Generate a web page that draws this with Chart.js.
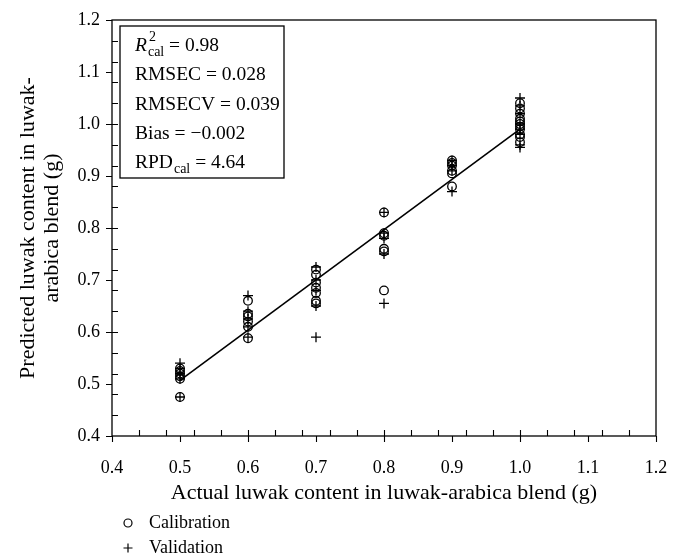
<!DOCTYPE html>
<html>
<head>
<meta charset="utf-8">
<script src="https://cdn.jsdelivr.net/npm/chart.js@4.4.0/dist/chart.umd.min.js"></script>
<style>
  html, body { margin: 0; padding: 0; background: #fff; }
  #wrap { position: relative; width: 682px; height: 557px; }
</style>
</head>
<body>
<div id="wrap"><canvas id="c" width="682" height="557"></canvas></div>
<script>
// ---- data ----
const xTicks = [0.4, 0.5, 0.6, 0.7, 0.8, 0.9, 1.0, 1.1, 1.2];
const yTicks = [0.4, 0.5, 0.6, 0.7, 0.8, 0.9, 1.0, 1.1, 1.2];
const minorStep = 0.04;

const calActual = [
  0.5, 0.5, 0.5, 0.5, 0.5, 0.5,
  0.6, 0.6, 0.6, 0.6, 0.6, 0.6,
  0.7, 0.7, 0.7, 0.7, 0.7, 0.7, 0.7,
  0.8, 0.8, 0.8, 0.8, 0.8, 0.8,
  0.9, 0.9, 0.9, 0.9, 0.9, 0.9,
  1.0, 1.0, 1.0, 1.0, 1.0, 1.0, 1.0, 1.0, 1.0, 1.0, 1.0
];
const calPredicted = [
  0.475, 0.510, 0.515, 0.520, 0.525, 0.530,
  0.588, 0.610, 0.620, 0.630, 0.635, 0.660,
  0.655, 0.660, 0.675, 0.685, 0.695, 0.710, 0.720,
  0.680, 0.755, 0.760, 0.785, 0.790, 0.830,
  0.880, 0.905, 0.910, 0.920, 0.925, 0.930,
  0.965, 0.975, 0.980, 0.990, 0.995, 1.000, 1.005, 1.010, 1.020, 1.030, 1.040
];
const valActual = [
  0.5, 0.5, 0.5, 0.5, 0.5,
  0.6, 0.6, 0.6, 0.6, 0.6,
  0.7, 0.7, 0.7, 0.7, 0.7,
  0.8, 0.8, 0.8, 0.8, 0.8,
  0.9, 0.9, 0.9, 0.9,
  1.0, 1.0, 1.0, 1.0, 1.0, 1.0, 1.0, 1.0
];
const valPredicted = [
  0.475, 0.510, 0.520, 0.530, 0.540,
  0.590, 0.610, 0.625, 0.640, 0.670,
  0.590, 0.650, 0.680, 0.700, 0.725,
  0.655, 0.750, 0.780, 0.790, 0.830,
  0.870, 0.910, 0.920, 0.930,
  0.955, 0.960, 0.980, 0.990, 1.000, 1.020, 1.035, 1.050
];
const fitX = [0.5, 1.0];
const fitY = [0.507, 0.990];

const statsLines = [
  { main: 'R', italic: true, sup: '2', sub: 'cal', rest: ' = 0.98' },
  { main: 'RMSEC', rest: ' = 0.028' },
  { main: 'RMSECV', rest: ' = 0.039' },
  { main: 'Bias', rest: ' = \u22120.002' },
  { main: 'RPD', sub: 'cal', rest: ' = 4.64' }
];
const legendLabels = ['Calibration', 'Validation'];
const xTitle = 'Actual luwak content in luwak-arabica blend (g)';
const yTitle = ['Predicted luwak content in luwak-', 'arabica blend (g)'];

const SERIF = '"Liberation Serif", "DejaVu Serif", serif';

function pts(xs, ys) { return xs.map((x, i) => ({ x: x, y: ys[i] })); }

// frame, ticks, stats box, legend
const decor = {
  id: 'decor',
  afterDraw(chart) {
    const ctx = chart.ctx;
    const a = chart.chartArea;
    const xs = chart.scales.x, ys = chart.scales.y;
    ctx.save();
    ctx.strokeStyle = '#000';
    ctx.lineWidth = 1.3;
    ctx.strokeRect(a.left, a.top, a.right - a.left, a.bottom - a.top);
    // major ticks (outside)
    ctx.lineWidth = 1.1;
    ctx.beginPath();
    xTicks.forEach(v => {
      const px = Math.round(xs.getPixelForValue(v)) + 0.5;
      ctx.moveTo(px, a.bottom); ctx.lineTo(px, a.bottom + 6);
    });
    yTicks.forEach(v => {
      const py = Math.round(ys.getPixelForValue(v)) + 0.5;
      ctx.moveTo(a.left, py); ctx.lineTo(a.left - 6, py);
    });
    // minor ticks (inside)
    const x0 = xTicks[0], x1 = xTicks[xTicks.length - 1];
    for (let k = 1; x0 + k * minorStep < x1 - 1e-9; k++) {
      const px = Math.round(xs.getPixelForValue(x0 + k * minorStep)) + 0.5;
      ctx.moveTo(px, a.bottom); ctx.lineTo(px, a.bottom - 6);
    }
    const y0 = yTicks[0], y1 = yTicks[yTicks.length - 1];
    for (let k = 1; y0 + k * minorStep < y1 - 1e-9; k++) {
      const py = Math.round(ys.getPixelForValue(y0 + k * minorStep)) + 0.5;
      ctx.moveTo(a.left, py); ctx.lineTo(a.left + 6, py);
    }
    ctx.stroke();

    // stats box
    const bx = a.left + 8, by = a.top + 6, bw = 164, bh = 152;
    ctx.lineWidth = 1.3;
    ctx.fillStyle = '#fff';
    ctx.fillRect(bx, by, bw, bh);
    ctx.strokeRect(bx, by, bw, bh);
    ctx.fillStyle = '#000';
    ctx.textBaseline = 'alphabetic';
    ctx.textAlign = 'left';
    const lh = 29.3;
    statsLines.forEach((ln, i) => {
      let x = bx + 15;
      const y = by + 25 + i * lh;
      ctx.font = (ln.italic ? 'italic ' : '') + '19.5px ' + SERIF;
      ctx.fillText(ln.main, x, y);
      x += ctx.measureText(ln.main).width;
      let w = 0;
      if (ln.sup) {
        ctx.font = '14px ' + SERIF;
        ctx.fillText(ln.sup, x + 2, y - 10);
        w = Math.max(w, ctx.measureText(ln.sup).width + 2);
      }
      if (ln.sub) {
        ctx.font = '14px ' + SERIF;
        ctx.fillText(ln.sub, x + 1, y + 5);
        w = Math.max(w, ctx.measureText(ln.sub).width + 1);
      }
      x += w;
      ctx.font = '19.5px ' + SERIF;
      ctx.fillText(ln.rest, x, y);
    });

    // legend
    ctx.font = '18px ' + SERIF;
    ctx.textBaseline = 'middle';
    ctx.lineWidth = 1.2;
    const lx = 128, ly1 = 523, ly2 = 548;
    ctx.beginPath();
    ctx.arc(lx, ly1, 4, 0, Math.PI * 2);
    ctx.stroke();
    ctx.beginPath();
    ctx.moveTo(lx - 4.5, ly2); ctx.lineTo(lx + 4.5, ly2);
    ctx.moveTo(lx, ly2 - 4.5); ctx.lineTo(lx, ly2 + 4.5);
    ctx.stroke();
    ctx.fillText(legendLabels[0], 149, ly1);
    ctx.fillText(legendLabels[1], 149, ly2);
    ctx.restore();
  }
};

new Chart(document.getElementById('c'), {
  type: 'scatter',
  plugins: [decor],
  data: {
    datasets: [
      {
        label: legendLabels[0],
        data: pts(calActual, calPredicted),
        pointStyle: 'circle',
        pointRadius: 4.3,
        pointHoverRadius: 4.3,
        borderColor: '#000',
        backgroundColor: 'rgba(0,0,0,0)',
        borderWidth: 1.3,
        order: 2
      },
      {
        label: legendLabels[1],
        data: pts(valActual, valPredicted),
        pointStyle: 'cross',
        pointRadius: 5,
        pointHoverRadius: 5,
        borderColor: '#000',
        backgroundColor: '#000',
        borderWidth: 1.3,
        order: 1
      },
      {
        type: 'line',
        label: 'fit',
        data: pts(fitX, fitY),
        borderColor: '#000',
        borderWidth: 1.6,
        pointRadius: 0,
        fill: false,
        order: 0
      }
    ]
  },
  options: {
    responsive: false,
    animation: false,
    events: [],
    layout: { padding: { top: 20, right: 26, bottom: 51, left: 0 } },
    plugins: { legend: { display: false }, tooltip: { enabled: false } },
    scales: {
      x: {
        type: 'linear',
        min: 0.4, max: 1.2,
        afterFit: s => { s.height = 70; s.paddingLeft = 0; s.paddingRight = 0; },
        afterBuildTicks: s => { s.ticks = xTicks.map(v => ({ value: v })); },
        grid: { display: false, drawTicks: false },
        border: { display: false },
        ticks: { color: '#000', padding: 21, font: { family: SERIF, size: 18 }, callback: v => v.toFixed(1), maxRotation: 0 },
        title: { display: true, text: xTitle, color: '#000', font: { family: SERIF, size: 22 }, padding: { top: 0, bottom: 0 } }
      },
      y: {
        type: 'linear',
        min: 0.4, max: 1.2,
        afterFit: s => { s.width = 112; s.paddingTop = 0; s.paddingBottom = 0; },
        afterBuildTicks: s => { s.ticks = yTicks.map(v => ({ value: v })); },
        grid: { display: false, drawTicks: false },
        border: { display: false },
        ticks: { color: '#000', padding: 12, font: { family: SERIF, size: 18 }, callback: v => v.toFixed(1) },
        title: { display: true, text: yTitle, color: '#000', font: { family: SERIF, size: 22, lineHeight: 1.1 }, padding: { top: 16, bottom: 0 } }
      }
    }
  }
});
</script>
</body>
</html>
